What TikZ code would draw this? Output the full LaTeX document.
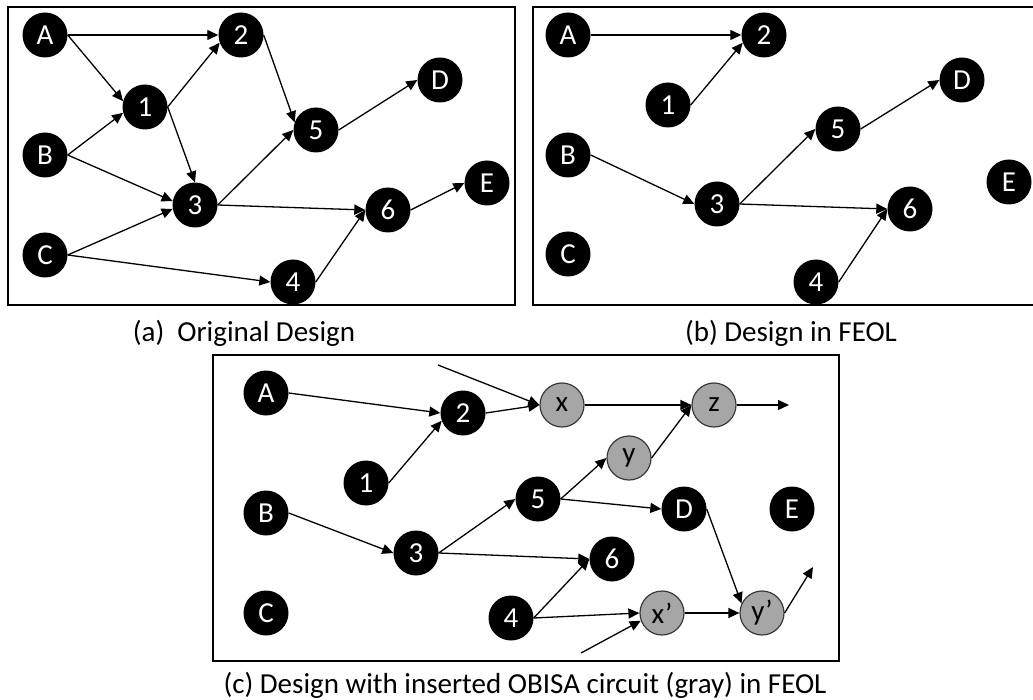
\documentclass[tikz,border=0pt]{standalone}
\usepackage{fontspec}
\setmainfont{Carlito}
\usetikzlibrary{arrows.meta}
\definecolor{obisa}{HTML}{A6A6A6}
\definecolor{obisaline}{HTML}{3A3A3A}
\tikzset{
  gate/.style={circle, fill=black, text=white, minimum size=45pt, inner sep=0pt,
    font=\fontsize{29}{29}\selectfont},
  obisagate/.style={circle, fill=obisa, draw=obisaline, line width=1.2pt, text=black,
    minimum size=44pt, inner sep=0pt, font=\fontsize{29}{29}\selectfont},
  wire/.style={line width=1.3pt, -{Triangle[length=11pt,width=10pt]}},
  frame/.style={line width=2.2pt},
  caption/.style={anchor=base, inner sep=0pt, font=\fontsize{29}{34}\selectfont},
}
\begin{document}
\begin{tikzpicture}[x=1pt, y=-1pt]
\useasboundingbox (0,0) rectangle (1033,700);
\begin{scope}
\clip (0,0) rectangle (1033,700);

% ---------- (a) original design ----------
\draw[frame] (8,7) rectangle (515,305);
\node[gate] (aA) at (45,35) {A};
\node[gate] (aB) at (45,155) {B};
\node[gate] (aC) at (45,255) {C};
\node[gate] (a1) at (145,107) {1};
\node[gate] (a2) at (241,35) {2};
\node[gate] (a3) at (195,205) {3};
\node[gate] (a4) at (293,282) {4};
\node[gate] (a5) at (316,130) {5};
\node[gate] (a6) at (388,210) {6};
\node[gate] (aD) at (440,80) {D};
\node[gate] (aE) at (487,183) {E};
\draw[wire] (aA.east) -- (a2.west);
\draw[wire] (aA.east) -- (a1.165);
\draw[wire] (aB.east) -- (a1.195);
\draw[wire] (a1.east) -- (a2.200);
\draw[wire] (a1.east) -- (a3.north);
\draw[wire] (aB.east) -- (a3.170);
\draw[wire] (aC.east) -- (a3.190);
\draw[wire] (aC.east) -- (a4.west);
\draw[wire] (a2.east) -- (a5.160);
\draw[wire] (a3.east) -- (a5.west);
\draw[wire] (a3.east) -- (a6.west);
\draw[wire] (a5.east) -- (aD.west);
\draw[wire] (a4.east) -- (a6.west);
\draw[wire] (a6.east) -- (aE.west);
\node[caption] (capA) at (244,342) {(a)\ \ Original Design};

% ---------- (b) design in FEOL ----------
\draw[frame] (533,7) rectangle (1040,305);
\node[gate] (bA) at (568,35) {A};
\node[gate] (bB) at (568,155) {B};
\node[gate] (bC) at (568,254) {C};
\node[gate] (b1) at (668,105) {1};
\node[gate] (b2) at (764,35) {2};
\node[gate] (b3) at (717,204) {3};
\node[gate] (b4) at (816,282) {4};
\node[gate] (b5) at (838,129) {5};
\node[gate] (b6) at (910,209) {6};
\node[gate] (bD) at (962,80) {D};
\node[gate] (bE) at (1009,182) {E};
\draw[wire] (bA.east) -- (b2.west);
\draw[wire] (b1.east) -- (b2.200);
\draw[wire] (bB.east) -- (b3.west);
\draw[wire] (b3.east) -- (b5.west);
\draw[wire] (b3.east) -- (b6.west);
\draw[wire] (b5.east) -- (bD.west);
\draw[wire] (b4.east) -- (b6.west);
\node[caption] (capB) at (791,342) {(b) Design in FEOL};

% ---------- (c) design with inserted OBISA circuit ----------
\draw[frame] (213,355) rectangle (839,661);
\node[gate] (cA) at (266,393) {A};
\node[gate] (cB) at (266,513) {B};
\node[gate] (cC) at (266,613) {C};
\node[gate] (c1) at (366,483) {1};
\node[gate] (c2) at (463,413) {2};
\node[gate] (c3) at (416,553) {3};
\node[gate] (c4) at (511,618) {4};
\node[gate] (c5) at (538,499) {5};
\node[gate] (c6) at (612,559) {6};
\node[gate] (cD) at (684,509) {D};
\node[gate] (cE) at (792,509) {E};
\node[obisagate] (cx) at (562,405) {x};
\node[obisagate] (cy) at (629,458) {y};
\node[obisagate] (cz) at (714,405) {z};
\node[obisagate] (cxp) at (662,613) {x’};
\node[obisagate] (cyp) at (762,613) {y’};
\coordinate (xin) at (438,365);
\coordinate (xpin) at (581,653);
\coordinate (zout) at (789,405);
\coordinate (ypout) at (813,567);
\draw[wire] (cA.east) -- (c2.west);
\draw[wire] (c1.east) -- (c2.200);
\draw[wire] (c2.east) -- (cx.west);
\draw[wire] (xin) -- (cx.west);
\draw[wire] (cx.east) -- (cz.west);
\draw[wire] (c5.east) -- (cy.west);
\draw[wire] (cy.east) -- (cz.west);
\draw[wire] (cz.east) -- (zout);
\draw[wire] (cB.east) -- (c3.west);
\draw[wire] (c3.east) -- (c5.west);
\draw[wire] (c3.east) -- (c6.west);
\draw[wire] (c5.east) -- (cD.west);
\draw[wire] (cD.east) -- (cyp.155);
\draw[wire] (c4.east) -- (c6.west);
\draw[wire] (c4.east) -- (cxp.west);
\draw[wire] (xpin) -- (cxp.200);
\draw[wire] (cxp.east) -- (cyp.west);
\draw[wire] (cyp.east) -- (ypout);
\node[caption] (capC) at (525,693) {(c) Design with inserted OBISA circuit (gray) in FEOL};
\end{scope}
\end{tikzpicture}
\end{document}
